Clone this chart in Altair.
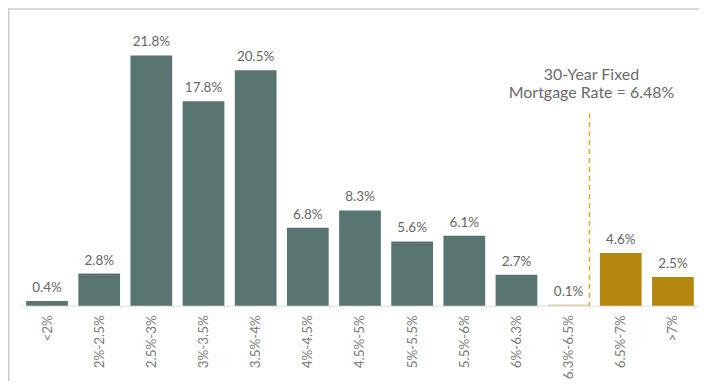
import altair as alt
import pandas as pd

categories = ["<2%", "2%-2.5%", "2.5%-3%", "3%-3.5%", "3.5%-4%", "4%-4.5%", "4.5%-5%",
              "5%-5.5%", "5.5%-6%", "6%-6.3%", "6.3%-6.5%", "6.5%-7%", ">7%"]
shares = [0.4, 2.8, 21.8, 17.8, 20.5, 6.8, 8.3, 5.6, 6.1, 2.7, 0.1, 4.6, 2.5]
groups = ["below"] * 10 + ["near", "above", "above"]

rate_category = "6.3%-6.5%"
annotation_text = "30-Year Fixed\nMortgage Rate = 6.48%"

df = pd.DataFrame({
    "cat": categories,
    "share": shares,
    "group": groups,
    "label": [f"{v}%" for v in shares],
})

FONT = "Lato"
W, H = 680, 297
xscale = alt.Scale(domain=categories, paddingInner=0.2, paddingOuter=0.1)
yscale = alt.Scale(domain=[0, 25.8])

x_enc = alt.X("cat:N", scale=xscale, sort=categories, title=None,
              axis=alt.Axis(labelAngle=-90, labelFont=FONT, labelFontSize=13.5,
                            labelColor="#7a7a7a", domainColor="#dddddd",
                            tickColor="#dddddd", tickSize=3, tickBand="extent",
                            labelPadding=6))

base = alt.Chart(df)

bars = base.mark_bar().encode(
    x=x_enc,
    y=alt.Y("share:Q", scale=yscale, axis=None),
    color=alt.Color("group:N", scale=alt.Scale(domain=["below", "near", "above"],
                                                range=["#587571", "#d8caa2", "#b5860d"]),
                    legend=None),
)

labels = base.mark_text(baseline="alphabetic", dy=-9, font=FONT, fontSize=13.5,
                        color="#666666").encode(
    x=alt.X("cat:N", scale=xscale, sort=categories),
    y=alt.Y("share:Q", scale=yscale),
    text="label:N",
)

ann_df = pd.DataFrame({"cat": [rate_category], "top": [16.77], "bottom": [0.0],
                       "ty": [19.63], "text": [annotation_text]})
ann = alt.Chart(ann_df)
rate_line = ann.mark_rule(color="#e0b03a", strokeDash=[5, 4], strokeWidth=1.7).encode(
    x=alt.X("cat:N", scale=xscale, sort=categories, bandPosition=1),
    y=alt.Y("top:Q", scale=yscale),
    y2="bottom:Q",
)
rate_text = ann.mark_text(lineBreak="\n", align="center", baseline="alphabetic",
                          font=FONT, fontSize=16, color="#6a6a6a", lineHeight=18,
                          dx=2).encode(
    x=alt.X("cat:N", scale=xscale, sort=categories, bandPosition=1),
    y=alt.Y("ty:Q", scale=yscale),
    text="text:N",
)

frame_top = alt.Chart(pd.DataFrame({"a": [0]})).mark_rule(color="#cccccc", strokeWidth=1.5).encode(
    x=alt.value(-13), x2=alt.value(W + 6), y=alt.value(-0.5))
frame_left = alt.Chart(pd.DataFrame({"a": [0]})).mark_rule(color="#cccccc", strokeWidth=1.5).encode(
    x=alt.value(-12.25), y=alt.value(-1), y2=alt.value(H + 80))

chart = alt.layer(frame_top, frame_left, bars, labels, rate_line, rate_text).properties(
    width=W, height=H,
    padding={"left": 13, "top": 1, "right": 0, "bottom": 75},
    autosize=alt.AutoSizeParams(type="none"),
).configure_view(stroke=None)

chart.save("out.html", embed_options={"renderer": "svg", "actions": False})
